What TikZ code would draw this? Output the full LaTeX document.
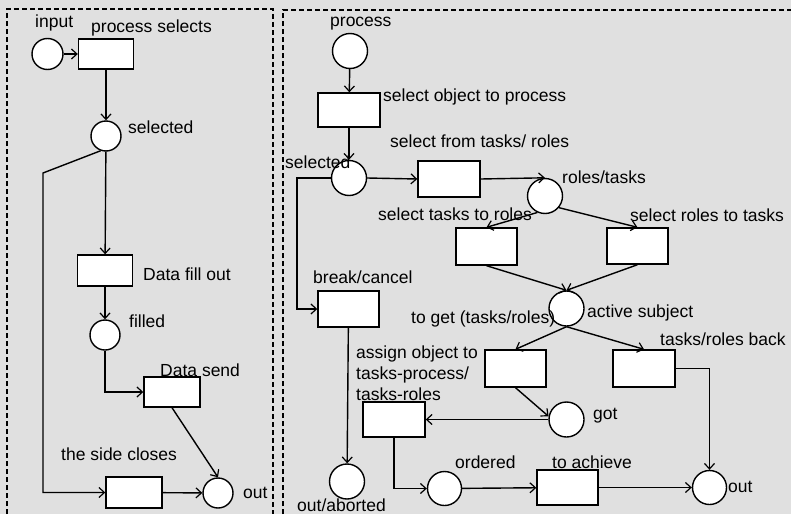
\documentclass[tikz,border=0pt]{standalone}
\usepackage{fontspec}
\setmainfont{Liberation Sans}
\usetikzlibrary{arrows.meta}
\newcommand\lbf{\fontsize{17.5}{21}\selectfont}
\tikzset{
  place/.style={circle,draw,fill=white,line width=1.4pt,minimum size=33pt,inner sep=0pt},
  trans/.style={rectangle,draw,fill=white,line width=1.4pt,minimum width=61pt,minimum height=36pt,inner sep=0pt},
  lbl/.style={font=\lbf,inner sep=0pt,anchor=base west},
  arr/.style={-{Straight Barb[length=5.5pt,width=10pt,line width=1.2pt]},line width=1.4pt},
  frame/.style={line width=1.3pt,dash pattern=on 5pt off 3pt}
}
\begin{document}
\begin{tikzpicture}[x=1pt,y=-1pt]
\useasboundingbox (0,0) rectangle (791,514);
\fill[black!12] (0,0) rectangle (791,514);
% frames
\draw[frame] (7,514) -- (7,9) -- (273,9) -- (273,514);
\draw[frame] (283,514) -- (283,10) -- (791,10);

% ---------- left panel ----------
\node[place,minimum size=31pt] (in) at (47.5,54) {};
\node[trans,minimum width=55pt,minimum height=30pt] (ps) at (106,54) {};
\node[place,minimum size=30pt] (sel1) at (106,136) {};
\node[trans,minimum width=55pt,minimum height=31pt] (dfo) at (105,270.5) {};
\node[place,minimum size=30pt] (fil) at (105,335) {};
\node[trans,minimum width=56pt,minimum height=30pt] (ds) at (172,392) {};
\node[trans,minimum width=56pt,minimum height=31pt] (sc) at (134,492.5) {};
\node[place,minimum size=30pt] (out1) at (218,493) {};
\coordinate (k1) at (43,173);

\draw[arr] (in) -- (ps);
\draw[arr] (ps) -- (sel1);
\draw[arr] (sel1) -- (dfo);
\draw[arr] (dfo) -- (fil);
\draw[arr] (fil.south) |- (ds.west);
\draw[arr] (ds.south) -- (out1.north);
\draw[arr] (sel1.250) -- (k1) |- (sc.west);
\draw[arr] (sc) -- (out1);

\node[lbl] (l1) at (35,27) {input};
\node[lbl] (l2) at (91,32) {process selects};
\node[lbl] (l3) at (128,133) {selected};
\node[lbl] (l4) at (143,280) {Data fill out};
\node[lbl] (l5) at (129,327) {filled};
\node[lbl] (l6) at (160,376) {Data send};
\node[lbl] (l7) at (61,460) {the side closes};
\node[lbl] (l8) at (243,498) {out};

% ---------- right panel ----------
\node[place,minimum size=35pt] (proc) at (350,51) {};
\node[trans,minimum width=62pt,minimum height=34pt] (soo) at (349,110) {};
\node[place,minimum size=35pt] (sel2) at (349,178) {};
\node[trans,minimum width=62pt,minimum height=36pt] (sft) at (449,179) {};
\node[place,minimum size=35pt] (rt) at (545,196) {};
\node[trans,minimum height=37pt] (stt) at (486.5,246.5) {};
\node[trans] (srt) at (637.5,246) {};
\node[place,minimum size=35pt] (as) at (566.5,308.5) {};
\node[trans,minimum height=37pt] (tg) at (515.5,368.5) {};
\node[trans,minimum width=62pt,minimum height=37pt] (trb) at (644,368.5) {};
\node[place,minimum size=35pt] (got) at (566.5,419.5) {};
\node[trans,minimum width=62pt,minimum height=35pt] (asg) at (394,419.5) {};
\node[place,minimum size=34pt] (ord) at (444.5,488.5) {};
\node[trans,minimum height=35pt] (ach) at (567.5,487.5) {};
\node[place,minimum size=34pt] (out2) at (709.5,487.5) {};
\node[trans] (brk) at (348.5,309) {};
\node[place,minimum size=35pt] (oa) at (347,481.5) {};
\coordinate (k2) at (297,178);

\draw[arr] (proc) -- (soo);
\draw[arr] (soo) -- (sel2);
\draw[arr] (sel2.east) -- (sft.west);
\draw[arr] (sel2.west) -- (k2) |- (brk.west);
\draw[arr] (brk) -- (oa);
\draw[arr] (sft.east) -- (rt.north);
\draw[arr] (rt.245) -- (stt.north);
\draw[arr] (rt.320) -- (srt.north);
\draw[arr] (stt.south) -- (as.north);
\draw[arr] (srt.south) -- (as.north);
\draw[arr] (as.south) -- (tg.north);
\draw[arr] (as.south) -- (trb.north);
\draw[arr] (trb.east) -| (out2.north);
\draw[arr] (tg.south) -- (got.170);
\draw[arr] (got.west) -- (asg.east);
\draw[arr] (asg.south) |- (ord.west);
\draw[arr] (ord) -- (ach);
\draw[arr] (ach) -- (out2);

\node[lbl] (r1) at (330,26) {process};
\node[lbl] (r2) at (383,101) {select object to process};
\node[lbl] (r3) at (390,147) {select from tasks/ roles};
\node[lbl] (r4) at (285,168) {selected};
\node[lbl] (r5) at (562,183) {roles/tasks};
\node[lbl] (r6) at (378,220) {select tasks to roles};
\node[lbl] (r7) at (630,221) {select roles to tasks};
\node[lbl] (r8) at (313,283) {break/cancel};
\node[lbl] (r9) at (587,317) {active subject};
\node[lbl] (r10) at (411,323) {to get (tasks/roles)};
\node[lbl] (r11) at (660,345) {tasks/roles back};
\node[font=\lbf,inner sep=0pt,anchor=north west,align=left] (r12) at (356,346) {assign object to\\tasks-process/\\tasks-roles};
\node[lbl] (r13) at (593,419) {got};
\node[lbl] (r14) at (455,468) {ordered};
\node[lbl] (r15) at (552,468) {to achieve};
\node[lbl] (r16) at (728,492) {out};
\node[lbl] (r17) at (297,511) {out/aborted};
\end{tikzpicture}
\end{document}
